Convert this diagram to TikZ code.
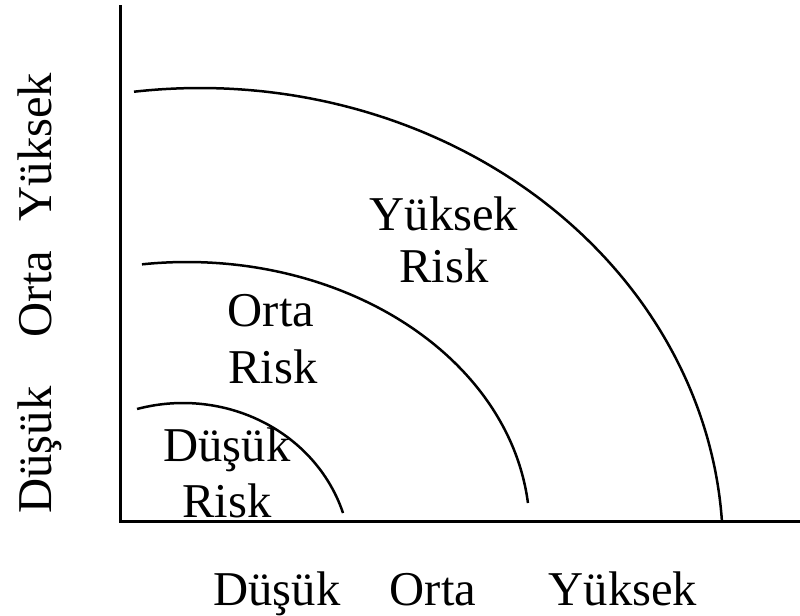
\documentclass[tikz,border=0pt]{standalone}
\usepackage{fontspec}
\setmainfont{Liberation Serif}
\begin{document}
\begin{tikzpicture}[x=0.5pt,y=-0.5pt,
  axis/.style={line width=1.5pt},
  curve/.style={line width=1.25pt},
  lbl/.style={font=\fontsize{24.3}{29}\selectfont, inner sep=0pt, anchor=base}]
\useasboundingbox (0,0) rectangle (800,616);
\coordinate (ytop) at (120,5);
\coordinate (o) at (120,521);
\coordinate (xend) at (800,521);
\draw[axis] (ytop) -- (o) -- (xend);
% risk boundaries
\draw[curve] plot[domain=97.25:3.72, samples=120, smooth] ({200+523*cos(\x)},{550-462*sin(\x)});
\draw[curve] plot[domain=97.55:5.78, samples=100, smooth] ({187+342.7*cos(\x)},{530-268*sin(\x)});
\draw[curve] plot[domain=105.9:17.4, samples=80, smooth] ({183+167.7*cos(\x)},{560-157*sin(\x)});
% region labels
\node[lbl] (yr1) at (444,230) {Yüksek};
\node[lbl] (yr2) at (444,282) {Risk};
\node[lbl] (or1) at (271,326) {Orta};
\node[lbl] (or2) at (273,383) {Risk};
\node[lbl] (dr1) at (227,461) {Düşük};
\node[lbl] (dr2) at (227,517) {Risk};
% x axis labels
\node[lbl] (xd) at (277,605) {Düşük};
\node[lbl] (xo) at (433,605) {Orta};
\node[lbl] (xy) at (623,605) {Yüksek};
% y axis labels
\node[lbl, rotate=90] (yd) at (52,450) {Düşük};
\node[lbl, rotate=90] (yo) at (52,294) {Orta};
\node[lbl, rotate=90] (yy) at (52,147) {Yüksek};
\end{tikzpicture}
\end{document}
